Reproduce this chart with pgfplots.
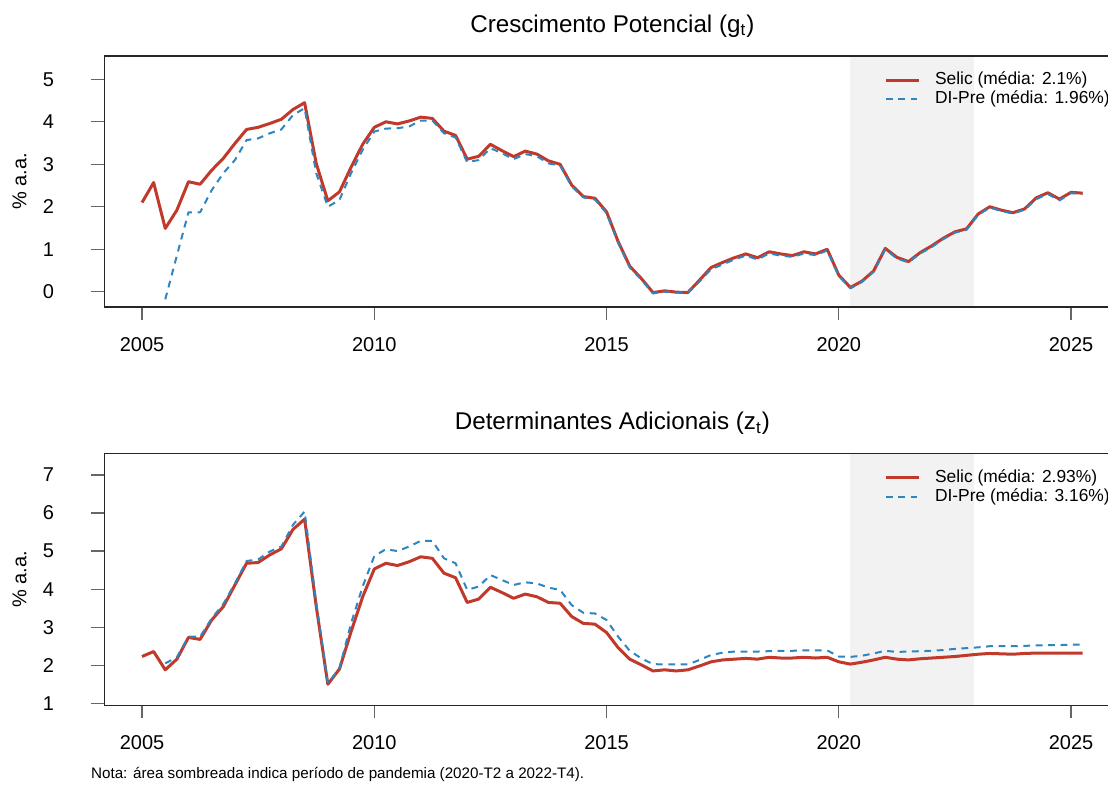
\documentclass[border=0pt]{standalone}
\usepackage{fontspec}
\setmainfont{Liberation Sans}
\usepackage{pgfplots}
\usepackage{pgfplotstable}
\pgfplotsset{compat=1.18}

\definecolor{selic}{RGB}{192,57,43}
\definecolor{dipre}{RGB}{46,134,193}
\definecolor{pandemia}{RGB}{242,242,242}

% Crescimento potencial (g_t), % a.a.
\pgfplotstableread{
t       selic  dipre
2005.00  2.10   nan
2005.25  2.57   nan
2005.50  1.49  -0.18
2005.75  1.92   0.85
2006.00  2.59   1.87
2006.25  2.53   1.87
2006.50  2.86   2.39
2006.75  3.14   2.79
2007.00  3.49   3.10
2007.25  3.82   3.57
2007.50  3.87   3.61
2007.75  3.96   3.73
2008.00  4.06   3.82
2008.25  4.29   4.16
2008.50  4.45   4.32
2008.75  3.02   2.79
2009.00  2.14   2.00
2009.25  2.35   2.16
2009.50  2.93   2.79
2009.75  3.47   3.34
2010.00  3.87   3.77
2010.25  4.00   3.84
2010.50  3.95   3.85
2010.75  4.02   3.89
2011.00  4.11   4.03
2011.25  4.08   4.03
2011.50  3.78   3.73
2011.75  3.68   3.63
2012.00  3.12   3.05
2012.25  3.19   3.10
2012.50  3.47   3.38
2012.75  3.32   3.26
2013.00  3.18   3.12
2013.25  3.31   3.24
2013.50  3.24   3.19
2013.75  3.08   3.02
2014.00  3.00   2.97
2014.25  2.51   2.48
2014.50  2.24   2.22
2014.75  2.20   2.17
2015.00  1.88   1.85
2015.25  1.18   1.15
2015.50  0.60   0.57
2015.75  0.31   0.28
2016.00 -0.02  -0.04
2016.25  0.02   0.00
2016.50 -0.01  -0.02
2016.75 -0.02  -0.03
2017.00  0.27   0.24
2017.25  0.57   0.53
2017.50  0.69   0.64
2017.75  0.80   0.76
2018.00  0.89   0.85
2018.25  0.80   0.76
2018.50  0.94   0.90
2018.75  0.89   0.85
2019.00  0.85   0.82
2019.25  0.94   0.90
2019.50  0.89   0.86
2019.75  1.00   0.97
2020.00  0.39   0.37
2020.25  0.10   0.08
2020.50  0.25   0.23
2020.75  0.49   0.47
2021.00  1.02   1.00
2021.25  0.81   0.78
2021.50  0.71   0.69
2021.75  0.92   0.90
2022.00  1.08   1.05
2022.25  1.26   1.24
2022.50  1.41   1.39
2022.75  1.48   1.46
2023.00  1.83   1.81
2023.25  2.00   1.98
2023.50  1.92   1.90
2023.75  1.86   1.84
2024.00  1.95   1.93
2024.25  2.21   2.18
2024.50  2.33   2.30
2024.75  2.18   2.15
2025.00  2.34   2.32
2025.25  2.32   2.30
}\gtab

% Determinantes adicionais (z_t), % a.a.
\pgfplotstableread{
t       selic  dipre
2005.00  2.23   nan
2005.25  2.36   nan
2005.50  1.88   2.05
2005.75  2.16   2.21
2006.00  2.73   2.75
2006.25  2.68   2.75
2006.50  3.19   3.23
2006.75  3.54   3.61
2007.00  4.11   4.15
2007.25  4.68   4.74
2007.50  4.70   4.78
2007.75  4.90   4.99
2008.00  5.06   5.12
2008.25  5.57   5.69
2008.50  5.84   6.04
2008.75  3.55   3.65
2009.00  1.50   1.53
2009.25  1.90   1.92
2009.50  2.88   3.10
2009.75  3.80   4.07
2010.00  4.53   4.87
2010.25  4.68   5.05
2010.50  4.62   5.00
2010.75  4.72   5.12
2011.00  4.85   5.27
2011.25  4.81   5.27
2011.50  4.42   4.81
2011.75  4.30   4.68
2012.00  3.65   3.98
2012.25  3.74   4.07
2012.50  4.05   4.37
2012.75  3.91   4.24
2013.00  3.76   4.11
2013.25  3.87   4.18
2013.50  3.80   4.15
2013.75  3.65   4.04
2014.00  3.63   3.98
2014.25  3.28   3.58
2014.50  3.10   3.38
2014.75  3.08   3.36
2015.00  2.86   3.19
2015.25  2.46   2.75
2015.50  2.16   2.38
2015.75  2.01   2.18
2016.00  1.85   2.03
2016.25  1.88   2.02
2016.50  1.85   2.02
2016.75  1.88   2.02
2017.00  1.98   2.14
2017.25  2.09   2.27
2017.50  2.14   2.33
2017.75  2.16   2.36
2018.00  2.18   2.36
2018.25  2.16   2.36
2018.50  2.21   2.37
2018.75  2.19   2.38
2019.00  2.19   2.38
2019.25  2.21   2.39
2019.50  2.19   2.39
2019.75  2.21   2.39
2020.00  2.09   2.23
2020.25  2.03   2.22
2020.50  2.08   2.25
2020.75  2.14   2.31
2021.00  2.21   2.38
2021.25  2.16   2.35
2021.50  2.14   2.36
2021.75  2.17   2.37
2022.00  2.19   2.38
2022.25  2.21   2.40
2022.50  2.23   2.43
2022.75  2.26   2.45
2023.00  2.29   2.47
2023.25  2.31   2.50
2023.50  2.30   2.50
2023.75  2.29   2.50
2024.00  2.31   2.51
2024.25  2.32   2.52
2024.50  2.32   2.53
2024.75  2.32   2.53
2025.00  2.32   2.54
2025.25  2.32   2.54
}\ztab

\pgfplotsset{
  painel/.style={
    scale only axis,
    width=507.95pt,
    xmin=2004.19, xmax=2026.06,
    xtick={2005,2010,2015,2020,2025},
    xtick pos=bottom, ytick pos=left,
    tick align=outside,
    major tick length=6.5pt,
    tick style={black!60, line width=0.6pt},
    axis line style={black!85, line width=0.6pt},
    ticklabel style={font=\fontsize{10pt}{12pt}\selectfont},
    /pgf/number format/assume math mode=true,
    /pgf/number format/1000 sep={},
    xticklabel style={anchor=north, inner sep=0pt},
    xticklabel shift=8.35pt,
    yticklabel style={anchor=east, inner sep=0pt},
    yticklabel shift=18.5pt,
    title style={at={(0.5,1)}, anchor=base, yshift=5.85pt,
                 font=\fontsize{12.1pt}{14pt}\selectfont},
    ylabel={\% a.a.},
    every axis y label/.style={at={(axis description cs:-0.0836,0.5)},
                 rotate=90, anchor=center,
                 font=\fontsize{10pt}{12pt}\selectfont},
    legend cell align=left,
    legend image code/.code={\draw[##1] (0pt,0pt) -- (16.7pt,0pt);},
    legend style={at={(0.7677,0.936)}, anchor=north west,
                  draw=none, fill=none, inner sep=0pt, outer sep=0pt,
                  row sep=1.05pt,
                  font=\fontsize{8.7pt}{10pt}\selectfont,
                  nodes={inner sep=0pt, text height=6.4pt, text depth=1.9pt},
                  /tikz/every odd column/.append style={column sep=7.15pt}},
    axis on top,
  },
  linha selic/.style={selic, line width=1.5pt, line join=round},
  linha dipre/.style={dipre, line width=1pt, line join=round,
                      dash pattern=on 3.4pt off 2.8pt},
}

\begin{document}
\begin{tikzpicture}
% painel superior: crescimento potencial
\begin{axis}[painel,
    at={(52.2pt,-153.5pt)}, anchor=south west,
    height=125.5pt,
    ymin=-0.360, ymax=5.549, ytick={0,1,2,3,4,5},
    title={Crescimento Potencial (g\textsubscript{t})}]
  \addplot[fill=pandemia, draw=none, forget plot]
    coordinates {(2020.25,-1) (2020.25,10) (2022.91,10) (2022.91,-1)} -- cycle;
  \addplot[linha selic] table[x=t, y=selic] {\gtab};
  \addlegendentry{Selic (média: 2.1\%)}
  \addplot[linha dipre] table[x=t, y=dipre] {\gtab};
  \addlegendentry{DI-Pre (média: 1.96\%)}
\end{axis}

% painel inferior: determinantes adicionais
\begin{axis}[painel,
    at={(52.2pt,-352.65pt)}, anchor=south west,
    height=125.9pt,
    ymin=0.947, ymax=7.565, ytick={1,2,3,4,5,6,7},
    title={Determinantes Adicionais (z\textsubscript{t})}]
  \addplot[fill=pandemia, draw=none, forget plot]
    coordinates {(2020.25,0) (2020.25,10) (2022.91,10) (2022.91,0)} -- cycle;
  \addplot[linha selic] table[x=t, y=selic] {\ztab};
  \addlegendentry{Selic (média: 2.93\%)}
  \addplot[linha dipre] table[x=t, y=dipre] {\ztab};
  \addlegendentry{DI-Pre (média: 3.16\%)}
\end{axis}

\node[anchor=base west, inner sep=0pt, font=\fontsize{7.6pt}{9pt}\selectfont]
  at (45.35pt,-389.2pt)
  {Nota: área sombreada indica período de pandemia (2020-T2 a 2022-T4).};

\pgfresetboundingbox
\path[use as bounding box] (0pt,0pt) rectangle (554pt,-394.5pt);
\end{tikzpicture}
\end{document}
